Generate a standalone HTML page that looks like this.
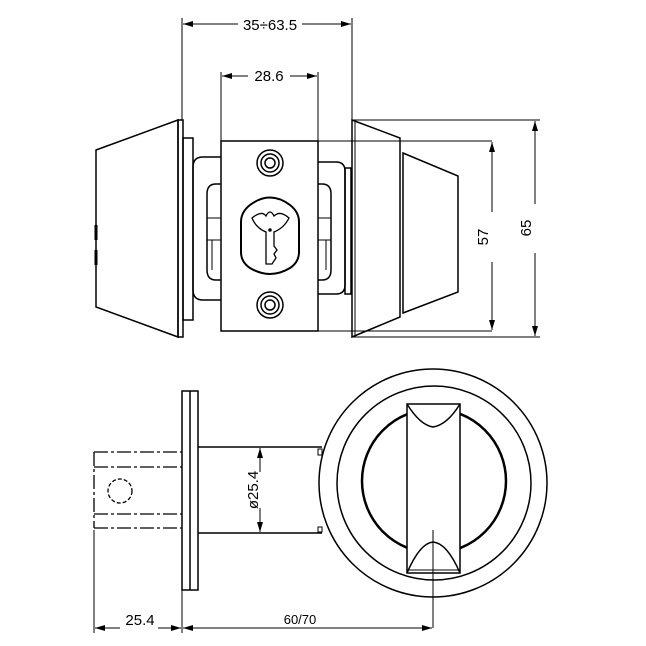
<!DOCTYPE html>
<html><head><style>html,body{margin:0;padding:0;background:#fff}svg{display:block}</style></head><body>
<svg width="646" height="646" viewBox="0 0 646 646" xmlns="http://www.w3.org/2000/svg" fill="none" stroke="#000" stroke-width="1.5" font-family="Liberation Sans, Arial, sans-serif">
<defs>
<marker id="a" markerWidth="10" markerHeight="6" refX="10" refY="3" orient="auto-start-reverse" markerUnits="userSpaceOnUse"><path d="M0,0 L10,3 L0,6 Z" fill="#000" stroke="none"/></marker>
</defs>
<!-- top dimensions -->
<line x1="182" y1="18" x2="182" y2="120" stroke-width="1"/>
<line x1="352" y1="18" x2="352" y2="120" stroke-width="1"/>
<line x1="183" y1="24" x2="238" y2="24" stroke-width="1" marker-start="url(#a)"/>
<line x1="302" y1="24" x2="351" y2="24" stroke-width="1" marker-end="url(#a)"/>
<text x="270" y="30" font-size="15" fill="#000" stroke="none" text-anchor="middle">35÷63.5</text>
<line x1="221" y1="72" x2="221" y2="141" stroke-width="1"/>
<line x1="318" y1="72" x2="318" y2="141" stroke-width="1"/>
<line x1="222" y1="76" x2="248" y2="76" stroke-width="1" marker-start="url(#a)"/>
<line x1="290" y1="76" x2="317" y2="76" stroke-width="1" marker-end="url(#a)"/>
<text x="269" y="81" font-size="15" fill="#000" stroke="none" text-anchor="middle">28.6</text>
<!-- left knob -->
<path d="M96,150 L178,120 L178,337 L96,307 Z"/>
<rect x="178" y="120" width="5" height="217"/>
<rect x="183" y="138" width="10" height="182"/>
<path d="M221,157 H203 Q193,157 193,167 V290 Q193,300 203,300 H221"/>
<path d="M221,184 H216 Q207,184 207,194 V270 Q207,280 216,280 H221"/>
<line x1="207" y1="218" x2="221" y2="218" stroke-width="1"/>
<line x1="207" y1="240" x2="221" y2="240" stroke-width="1"/>
<line x1="212" y1="240" x2="212" y2="270" stroke-width="1"/>
<line x1="96" y1="225" x2="96" y2="240" stroke-width="3"/>
<line x1="96" y1="250" x2="96" y2="265" stroke-width="3"/>
<!-- right side -->
<path d="M318,162 H336 Q345,162 345,171 V285 Q345,294 336,294 H318"/>
<path d="M318,184 H322 Q331,184 331,194 V270 Q331,280 322,280 H318"/>
<line x1="318" y1="218" x2="331" y2="218" stroke-width="1"/>
<line x1="318" y1="240" x2="331" y2="240" stroke-width="1"/>
<line x1="326" y1="240" x2="326" y2="270" stroke-width="1"/>
<rect x="345" y="168" width="6" height="126"/>
<path d="M352,120 L400,138 L400,317 L352,337 Z"/>
<line x1="355" y1="120" x2="355" y2="337" stroke-width="1"/>
<path d="M403,153 L458,176 L458,292 L403,313 Z"/>
<!-- faceplate -->
<rect x="221" y="141" width="97" height="190"/>
<circle cx="270" cy="163" r="13"/><circle cx="270" cy="163" r="9"/><circle cx="270" cy="163" r="5"/>
<circle cx="270" cy="305" r="13"/><circle cx="270" cy="305" r="9"/><circle cx="270" cy="305" r="5"/>
<path d="M250,205 Q270,190 290,205 Q299,212 299,222 V252 Q299,262 290,268 Q270,280 250,268 Q241,262 241,252 V222 Q241,212 250,205 Z" stroke-width="2"/>
<path d="M252,218 Q262,210 266,216 Q270,208 274,216 Q280,210 289,218 Q284,228 274,232 L274,246 L277,250 L274,254 L276,258 L272,264 L266,264 L266,232 Q256,228 252,218 Z" stroke-width="1.3"/>
<circle cx="270" cy="230" r="1" fill="#000"/>
<!-- right dims -->
<line x1="318" y1="141" x2="492" y2="141" stroke-width="1"/>
<line x1="318" y1="331" x2="492" y2="331" stroke-width="1"/>
<line x1="352" y1="120" x2="540" y2="120" stroke-width="1"/>
<line x1="352" y1="337" x2="540" y2="337" stroke-width="1"/>
<line x1="492" y1="142" x2="492" y2="212" stroke-width="1" marker-start="url(#a)"/>
<line x1="492" y1="262" x2="492" y2="330" stroke-width="1" marker-end="url(#a)"/>
<text transform="translate(488,237) rotate(-90)" font-size="15" fill="#000" stroke="none" text-anchor="middle">57</text>
<line x1="535" y1="121" x2="535" y2="204" stroke-width="1" marker-start="url(#a)"/>
<line x1="535" y1="253" x2="535" y2="336" stroke-width="1" marker-end="url(#a)"/>
<text transform="translate(531,228) rotate(-90)" font-size="15" fill="#000" stroke="none" text-anchor="middle">65</text>
<!-- bottom view -->
<g stroke-dasharray="14,3,3,3" stroke-width="1.3">
<line x1="94" y1="452" x2="182" y2="452"/>
<line x1="94" y1="467" x2="182" y2="467"/>
<line x1="94" y1="514" x2="182" y2="514"/>
<line x1="94" y1="528" x2="182" y2="528"/>
<line x1="94" y1="452" x2="94" y2="528"/>
</g>
<circle cx="120" cy="491" r="12" stroke-dasharray="4,2" stroke-width="1.3"/>
<rect x="182" y="391" width="16" height="199"/>
<line x1="190" y1="391" x2="190" y2="590"/>
<line x1="198" y1="447" x2="322" y2="447"/>
<line x1="198" y1="533" x2="322" y2="533"/>
<rect x="318" y="449" width="4" height="6" stroke-width="1"/>
<rect x="318" y="527" width="4" height="5" stroke-width="1"/>
<line x1="260" y1="448" x2="260" y2="472" stroke-width="1" marker-start="url(#a)"/>
<line x1="260" y1="508" x2="260" y2="532" stroke-width="1" marker-end="url(#a)"/>
<text transform="translate(258,490) rotate(-90)" font-size="15" fill="#000" stroke="none" text-anchor="middle">ø25.4</text>
<circle cx="433" cy="483" r="114"/>
<circle cx="434" cy="483" r="97"/>
<circle cx="434" cy="481" r="72" stroke-width="2.5"/>
<rect x="407" y="404" width="53" height="169" fill="#fff"/>
<path d="M407,404 Q420,425 433,427 Q447,425 460,404"/>
<path d="M407,573 Q420,543 433,542 Q447,543 460,573"/>
<line x1="407" y1="570" x2="460" y2="570" stroke-width="1"/>
<line x1="433" y1="530" x2="433" y2="628" stroke-width="1"/>
<line x1="94" y1="530" x2="94" y2="633" stroke-width="1"/>
<line x1="182" y1="590" x2="182" y2="633" stroke-width="1"/>
<line x1="95" y1="628" x2="120" y2="628" stroke-width="1" marker-start="url(#a)"/>
<line x1="158" y1="628" x2="181" y2="628" stroke-width="1" marker-end="url(#a)"/>
<text x="140" y="625" font-size="15" fill="#000" stroke="none" text-anchor="middle">25.4</text>
<line x1="183" y1="628" x2="432" y2="628" stroke-width="1" marker-start="url(#a)" marker-end="url(#a)"/>
<text x="300" y="624" font-size="13" fill="#000" stroke="none" text-anchor="middle">60/70</text>
</svg>
</body></html>
